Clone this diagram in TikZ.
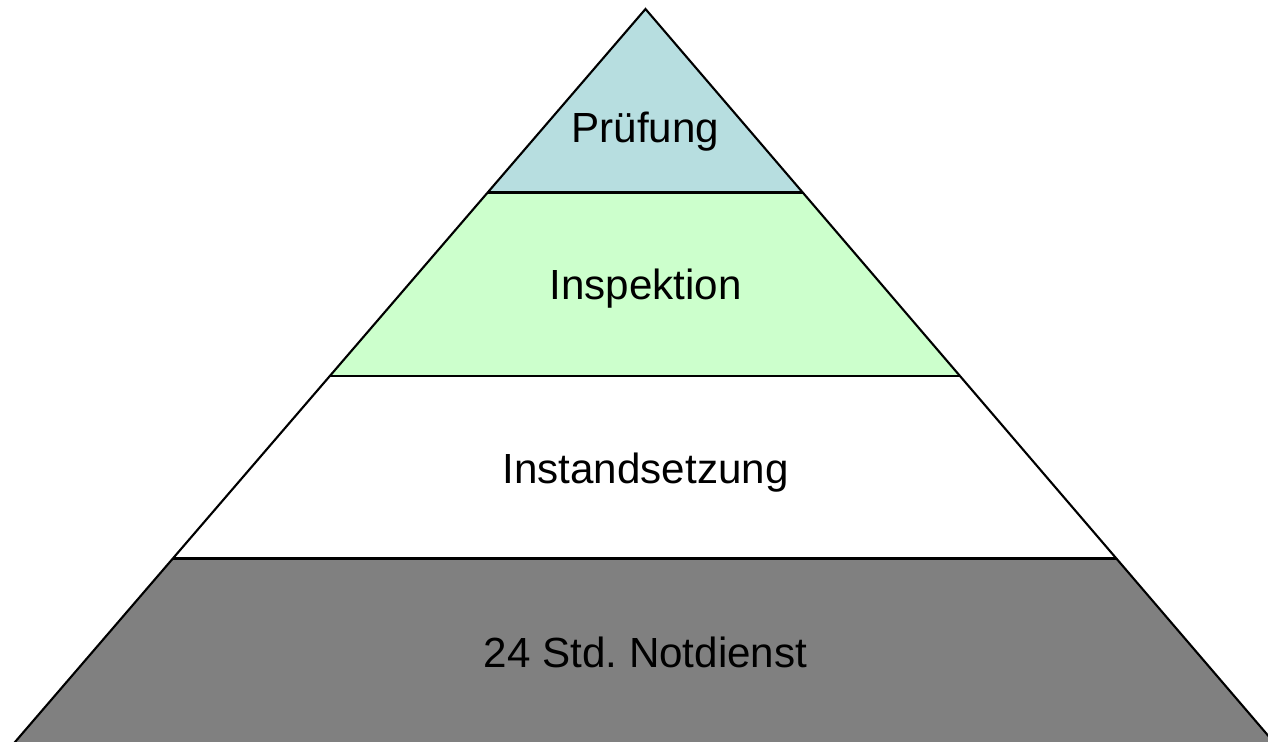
\documentclass[tikz,border=0pt]{standalone}
\usepackage{fontspec}
\setmainfont{Liberation Sans}
\usepackage{xcolor}
\definecolor{pruefblue}{HTML}{B7DEE0}
\definecolor{inspgreen}{HTML}{CCFFCC}
\definecolor{notgray}{HTML}{808080}
\tikzset{
    layer/.style = {draw=black, line width=1.2pt, line join=miter},
    label/.style = {font=\fontsize{24}{28}\selectfont, text=black, inner sep=0pt, anchor=base}
}

\begin{document}
\frenchspacing
\begin{tikzpicture}[x=0.02cm, y=-0.02cm]
\useasboundingbox (0,0) rectangle (1268,741);
\clip (0,0) rectangle (1268,741);
% corners of the layers
\coordinate (apex) at (645.5,9);
\coordinate (l1) at (487.7,192.5);  \coordinate (r1) at (802.8,192.5);
\coordinate (l2) at (329.9,376);    \coordinate (r2) at (960.0,376);
\coordinate (l3) at (173.0,558.5);  \coordinate (r3) at (1116.4,558.5);
\coordinate (l4) at (9.0,749);      \coordinate (r4) at (1279.6,749);

\fill [notgray] (l3) -- (r3) -- (r4) -- (l4) -- cycle;
\fill [white] (l2) -- (r2) -- (r3) -- (l3) -- cycle;
\fill [inspgreen] (l1) -- (r1) -- (r2) -- (l2) -- cycle;
\fill [pruefblue] (apex) -- (r1) -- (l1) -- cycle;

\draw [layer] (l4) -- (apex) -- (r4);
\draw [layer] (l1) -- (r1);
\draw [layer] (l2) -- (r2);
\draw [layer] (l3) -- (r3);

\node (pruef) [label] at (645.5,142) {Prüfung};
\node (insp) [label] at (645.5,299) {Inspektion};
\node (inst) [label] at (645.5,483) {Instandsetzung};
\node (not) [label] at (645.5,667) {24 Std. Notdienst};
\end{tikzpicture}
\end{document}
